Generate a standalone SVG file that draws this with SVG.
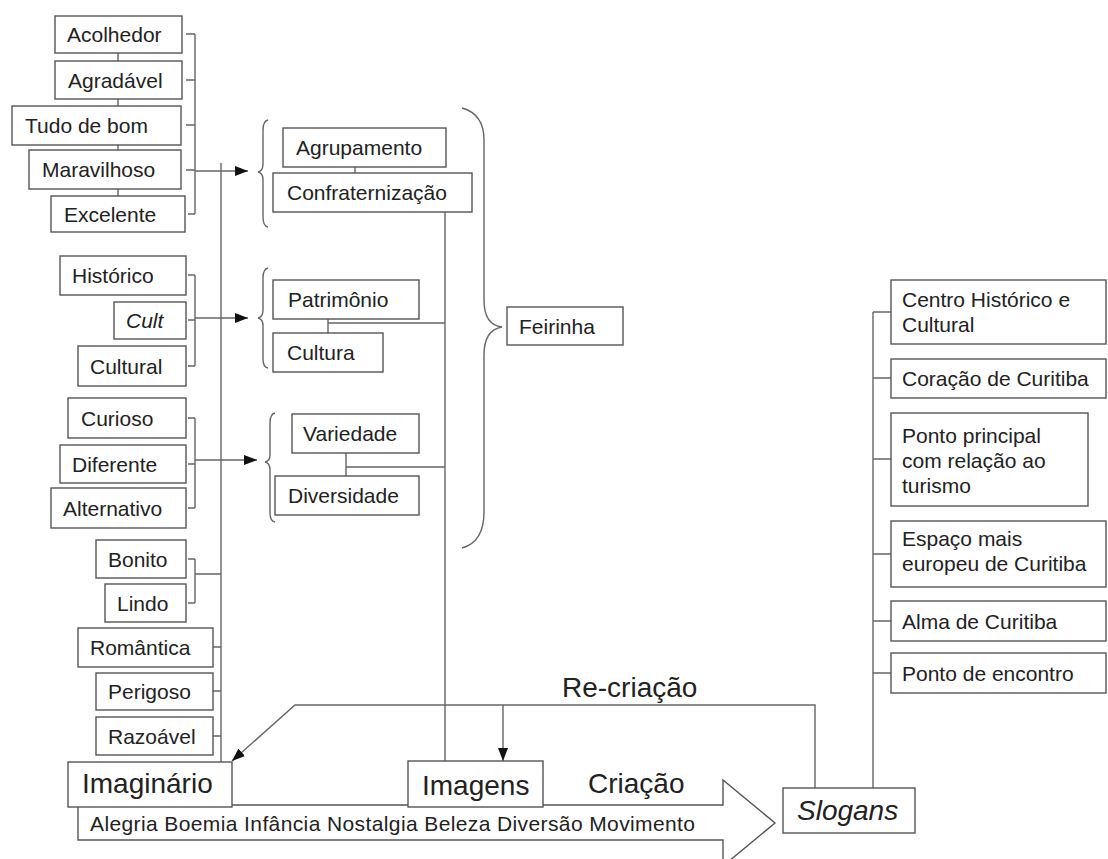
<svg xmlns="http://www.w3.org/2000/svg" width="1108" height="859" viewBox="0 0 1108 859">
<style>
.box{fill:#fff;stroke:#555;stroke-width:1.4}
.t{font-family:"Liberation Sans",Arial,sans-serif;font-size:21px;fill:#222}
.big{font-size:28px}
.it{font-style:italic}
.ln{stroke:#666;stroke-width:1.4;fill:none}
.ar{marker-end:url(#ah)}
</style>
<defs>
<marker id="ah" markerUnits="userSpaceOnUse" markerWidth="13" markerHeight="10" refX="13" refY="5" orient="auto">
<path d="M0,0 L13,5 L0,10 z" fill="#111"/>
</marker>
</defs>
<rect width="1108" height="859" fill="#fff"/>

<g id="bigarrow">
<polygon class="box" points="78,805 723,805 723,780 775,823 723,866 723,840 78,840"/>
<text class="t" x="90" y="831" textLength="605" lengthAdjust="spacing">Alegria Boemia Infância Nostalgia Beleza Diversão Movimento</text>
</g>

<g id="connectors">
<!-- small ticks between stacked boxes -->
<path class="ln" d="M118,53V61 M118,99V106 M118,145V150 M118,189V196"/>
<!-- group 1 bracket -->
<path class="ln" d="M186,34H195 M186,80H195 M186,125H195 M186,170H195 M188,214H195 M195,34V214"/>
<path class="ln ar" d="M195,171H248"/>
<!-- group 2 bracket -->
<path class="ln" d="M188,275H195 M188,320H195 M188,366H195 M195,275V366"/>
<path class="ln ar" d="M195,318H248"/>
<!-- group 3 bracket -->
<path class="ln" d="M188,418H195 M188,464H195 M188,508H195 M195,418V508"/>
<path class="ln ar" d="M195,460H257"/>
<!-- group 4 bracket -->
<path class="ln" d="M188,559H195 M188,603H195 M195,559V603 M195,574H221"/>
<path class="ln" d="M213,647H221 M213,691H221 M213,736H221"/>
<!-- main left vertical -->
<path class="ln" d="M221,163V762"/>
<!-- left braces -->
<path class="ln" d="M268,120 Q263,121 263,130 V164 Q263,171 258,172 Q263,173 263,180 V217 Q263,226 268,227"/>
<path class="ln" d="M268,268 Q263,269 263,278 V310 Q263,317 258,318 Q263,319 263,326 V359 Q263,367 268,368"/>
<path class="ln" d="M275,413 Q270,414 270,423 V455 Q270,461 265,462 Q270,463 270,470 V513 Q270,521 275,522"/>
<!-- middle connections -->
<path class="ln" d="M355,167V173 M445,212V762"/>
<path class="ln" d="M328,319V333 M328,323H445"/>
<path class="ln" d="M346,453V476 M346,467H445"/>
<!-- big right brace -->
<path class="ln" d="M462,108 Q484,114 484,140 V300 Q484,325 502,327 Q484,330 484,355 V512 Q484,542 462,548"/>
<!-- right slogans list -->
<path class="ln" d="M873,312V788 M873,312H891 M873,378H891 M873,459H891 M873,554H891 M873,621H891 M873,673H891"/>
<!-- re-criacao -->
<path class="ln ar" d="M815,788V705H295L232,761"/>
<path class="ln ar" d="M503,705V761"/>
</g>

<g id="n-acolhedor"><rect class="box" x="55" y="16" width="127" height="37"/><text class="t" x="67" y="42">Acolhedor</text></g>
<g id="n-agradavel"><rect class="box" x="55" y="61" width="127" height="38"/><text class="t" x="68" y="87.5">Agradável</text></g>
<g id="n-tudo"><rect class="box" x="12" y="106" width="169" height="39"/><text class="t" x="25" y="133">Tudo de bom</text></g>
<g id="n-maravilhoso"><rect class="box" x="29" y="150" width="152" height="39"/><text class="t" x="42" y="177">Maravilhoso</text></g>
<g id="n-excelente"><rect class="box" x="51" y="196" width="134" height="36"/><text class="t" x="64" y="221.5">Excelente</text></g>

<g id="n-historico"><rect class="box" x="60" y="256" width="126" height="39"/><text class="t" x="72" y="283">Histórico</text></g>
<g id="n-cult"><rect class="box" x="114" y="302" width="72" height="37"/><text class="t it" x="126" y="328">Cult</text></g>
<g id="n-cultural"><rect class="box" x="78" y="346" width="108" height="40"/><text class="t" x="90" y="373.5">Cultural</text></g>

<g id="n-curioso"><rect class="box" x="68" y="398" width="118" height="40"/><text class="t" x="81" y="425.5">Curioso</text></g>
<g id="n-diferente"><rect class="box" x="60" y="445" width="126" height="38"/><text class="t" x="72" y="471.5">Diferente</text></g>
<g id="n-alternativo"><rect class="box" x="51" y="488" width="135" height="40"/><text class="t" x="63" y="515.5">Alternativo</text></g>

<g id="n-bonito"><rect class="box" x="96" y="540" width="90" height="38"/><text class="t" x="108" y="566.5">Bonito</text></g>
<g id="n-lindo"><rect class="box" x="105" y="584" width="81" height="38"/><text class="t" x="117" y="610.5">Lindo</text></g>
<g id="n-romantica"><rect class="box" x="78" y="628" width="135" height="39"/><text class="t" x="90" y="655">Romântica</text></g>
<g id="n-perigoso"><rect class="box" x="96" y="673" width="117" height="37"/><text class="t" x="108" y="699">Perigoso</text></g>
<g id="n-razoavel"><rect class="box" x="96" y="717" width="117" height="38"/><text class="t" x="108" y="743.5">Razoável</text></g>

<g id="n-agrupamento"><rect class="box" x="283" y="128" width="163" height="39"/><text class="t" x="296" y="155">Agrupamento</text></g>
<g id="n-confraternizacao"><rect class="box" x="273" y="173" width="199" height="39"/><text class="t" x="287" y="200">Confraternização</text></g>
<g id="n-patrimonio"><rect class="box" x="273" y="280" width="146" height="39"/><text class="t" x="288" y="307">Patrimônio</text></g>
<g id="n-cultura"><rect class="box" x="273" y="333" width="110" height="39"/><text class="t" x="287" y="360">Cultura</text></g>
<g id="n-variedade"><rect class="box" x="292" y="414" width="127" height="39"/><text class="t" x="303" y="441">Variedade</text></g>
<g id="n-diversidade"><rect class="box" x="275" y="476" width="144" height="39"/><text class="t" x="288" y="503">Diversidade</text></g>
<g id="n-feirinha"><rect class="box" x="507" y="307" width="116" height="38"/><text class="t" x="519" y="333.5">Feirinha</text></g>

<g id="n-centro"><rect class="box" x="891" y="280" width="215" height="64"/><text class="t" x="902" y="307">Centro Histórico e</text><text class="t" x="902" y="332">Cultural</text></g>
<g id="n-coracao"><rect class="box" x="891" y="359" width="215" height="39"/><text class="t" x="902" y="386">Coração de Curitiba</text></g>
<g id="n-ponto"><rect class="box" x="891" y="413" width="197" height="93"/><text class="t" x="902" y="443">Ponto principal</text><text class="t" x="902" y="468">com relação ao</text><text class="t" x="902" y="493">turismo</text></g>
<g id="n-espaco"><rect class="box" x="891" y="521" width="215" height="66"/><text class="t" x="902" y="546">Espaço mais</text><text class="t" x="902" y="571">europeu de Curitiba</text></g>
<g id="n-alma"><rect class="box" x="891" y="601" width="215" height="40"/><text class="t" x="902" y="628.5">Alma de Curitiba</text></g>
<g id="n-encontro"><rect class="box" x="891" y="653" width="215" height="40"/><text class="t" x="902" y="680.5">Ponto de encontro</text></g>

<g id="n-imaginario"><rect class="box" x="68" y="762" width="164" height="45"/><text class="t big" x="82" y="793">Imaginário</text></g>
<g id="n-imagens"><rect class="box" x="408" y="761" width="135" height="46"/><text class="t big" x="422" y="795">Imagens</text></g>
<g id="n-slogans"><rect class="box" x="783" y="788" width="132" height="45"/><text class="t big it" x="797" y="820">Slogans</text></g>

<g id="labels">
<text class="t big" x="588" y="793">Criação</text>
<text class="t big" x="562" y="697">Re-criação</text>
</g>
</svg>
